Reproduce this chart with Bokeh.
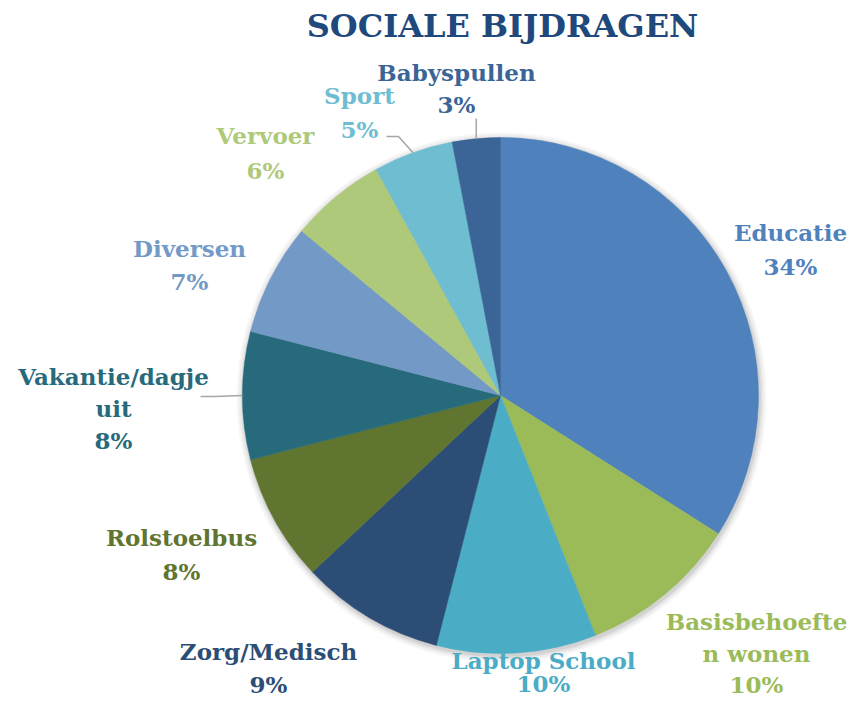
import math
from bokeh.plotting import figure
from bokeh.models import Range1d, ColumnDataSource
from bokeh.core.properties import value
from bokeh.embed import file_html
from bokeh.resources import INLINE

# ---------------- data ----------------
title_text = "SOCIALE BIJDRAGEN"
categories = ["Educatie", "Basisbehoeften wonen", "Laptop School", "Zorg/Medisch",
              "Rolstoelbus", "Vakantie/dagje uit", "Diversen", "Vervoer", "Sport",
              "Babyspullen"]
values = [34, 10, 10, 9, 8, 8, 7, 6, 5, 3]
colors = ["#4F81BD", "#9BBB59", "#4BACC6", "#2C4D75", "#5F7530",
          "#276A7C", "#7399C6", "#AFC97A", "#6FBDD1", "#3A6596"]

# ---------------- layout ----------------
W, H = 848, 699
CX, CY, R = 500, 395, 258          # pie centre / radius in canvas pixels
FONT = "DejaVu Serif"
# how a category name wraps in its label
wrap = {"Basisbehoeften wonen": ["Basisbehoefte", "n wonen"],
        "Vakantie/dagje uit": ["Vakantie/dagje", "uit"]}
label_x = [790, 756, 543, 268, 181, 113, 189, 265, 359, 456]
# vertical position (canvas px) of each label line
label_rows = [[232, 266], [621, 653, 684], [660, 683], [651, 684],
              [537, 571], [376, 408, 440], [248, 281], [135, 170],
              [95, 129], [72, 104]]
# leader line starting points (canvas px) per category index
leader_starts = {8: [(386, 136), (398, 136)],
                 9: [],
                 5: [(200, 396), (214, 396)]}
leader_top = {9: 118}


def Y(s):
    # canvas y (downwards) -> data y (upwards)
    return H - s


p = figure(width=W, height=H, x_range=Range1d(0, W), y_range=Range1d(0, H),
           output_backend="svg", toolbar_location=None, min_border=0,
           x_axis_type=None, y_axis_type=None)
p.grid.visible = False
p.outline_line_color = None
p.background_fill_color = "white"
p.border_fill_color = "white"

# soft shadow
for k, a in [(7, 0.03), (5, 0.04), (3, 0.05), (1.5, 0.06)]:
    p.circle(x=[CX + 1], y=[Y(CY + 2)], radius=R + k, fill_color="#000000",
             fill_alpha=a, line_color=None)

total = float(sum(values))
starts, ends, mids = [], [], []
cum = 0.0
for v in values:
    c0 = cum / total
    cum += v
    c1 = cum / total
    starts.append(math.pi / 2 - 2 * math.pi * c1)
    ends.append(math.pi / 2 - 2 * math.pi * c0)
    mids.append(math.pi / 2 - 2 * math.pi * (c0 + c1) / 2)

src = ColumnDataSource(dict(x=[CX] * len(values), y=[Y(CY)] * len(values),
                            start=starts, end=ends, color=colors))
p.wedge(x="x", y="y", radius=R, start_angle="start", end_angle="end",
        direction="anticlock", fill_color="color", line_color="color",
        line_width=0.5, source=src)

# leader lines
for i, pts in leader_starts.items():
    ex = CX + R * math.cos(mids[i])
    ey = Y(CY) + R * math.sin(mids[i])
    if i in leader_top:
        xs = [ex, ex]
        ys = [Y(leader_top[i]), ey]
    else:
        xs = [q[0] for q in pts] + [ex]
        ys = [Y(q[1]) for q in pts] + [ey]
    p.line(xs, ys, line_color="#A6A6A6", line_width=1.5)

# labels
tx, ty, tt, tc = [], [], [], []
for i, name in enumerate(categories):
    lines = wrap.get(name, [name]) + [f"{values[i]}%"]
    for ln, b in zip(lines, label_rows[i]):
        tx.append(label_x[i])
        ty.append(Y(b))
        tt.append(ln)
        tc.append(colors[i])
lsrc = ColumnDataSource(dict(x=tx, y=ty, text=tt, color=tc))
p.text(x="x", y="y", text="text", text_color="color", source=lsrc,
       text_font=value(FONT), text_font_style="bold", text_font_size="23px",
       text_align="center", text_baseline="alphabetic")

# title
p.text(x=[502], y=[Y(25)], text=[title_text], text_color="#1F497D",
       text_font=value(FONT), text_font_style="bold", text_font_size="32px",
       text_align="center", text_baseline="alphabetic")

open("out.html", "w").write(file_html(p, INLINE))
